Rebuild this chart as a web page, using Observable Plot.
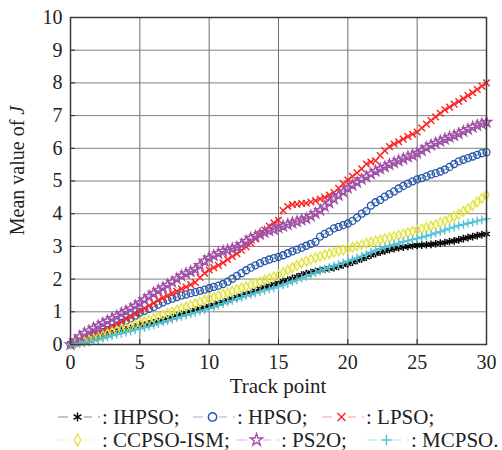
<!DOCTYPE html>
<html>
<head>
<meta charset="utf-8">
<script src="https://cdn.jsdelivr.net/npm/d3@7"></script>
<script src="https://cdn.jsdelivr.net/npm/@observablehq/plot@0.6"></script>
<style>
  body { margin: 0; background: #fff; font-family: "Liberation Serif", "Times New Roman", serif; }
  #chart { width: 502px; }
  .legend { position: relative; width: 502px; height: 50px; font-size: 21px; color: #222; }
  .item { position: absolute; display: flex; align-items: center; white-space: nowrap; height: 24px; }
  .item svg { display: block; margin-right: 2px; }
</style>
</head>
<body>
<div id="chart"></div>
<script>
// Mean value of J at each track point, sampled every 1/3 of a track point (0 … 30)
const seriesNames = ["IHPSO", "HPSO", "LPSO", "CCPSO-ISM", "PS2O", "MCPSO"];

const ihpso = [
  0.00, 0.02, 0.05, 0.08, 0.12, 0.16, 0.20, 0.24, 0.29, 0.33, 0.37, 0.41,
  0.45, 0.49, 0.53, 0.57, 0.60, 0.63, 0.66, 0.70, 0.74, 0.78, 0.82, 0.87,
  0.92, 0.96, 1.00, 1.05, 1.09, 1.13, 1.17, 1.21, 1.26, 1.30, 1.35, 1.40,
  1.45, 1.49, 1.54, 1.58, 1.64, 1.70, 1.75, 1.79, 1.84, 1.88, 1.93, 1.97,
  2.02, 2.07, 2.12, 2.17, 2.20, 2.24, 2.27, 2.30, 2.32, 2.35, 2.39, 2.43,
  2.47, 2.52, 2.57, 2.62, 2.67, 2.73, 2.78, 2.82, 2.86, 2.90, 2.93, 2.96,
  2.98, 3.00, 3.02, 3.03, 3.04, 3.05, 3.06, 3.08, 3.10, 3.12, 3.15, 3.17,
  3.20, 3.24, 3.27, 3.30, 3.33, 3.36, 3.38
];
const hpso = [
  0.00, 0.04, 0.09, 0.15, 0.21, 0.27, 0.33, 0.38, 0.44, 0.50, 0.58, 0.66,
  0.73, 0.80, 0.88, 0.98, 1.03, 1.09, 1.15, 1.22, 1.29, 1.35, 1.40, 1.45,
  1.50, 1.53, 1.57, 1.60, 1.64, 1.68, 1.72, 1.76, 1.80, 1.85, 1.92, 2.01,
  2.10, 2.18, 2.27, 2.35, 2.42, 2.49, 2.55, 2.60, 2.64, 2.68, 2.73, 2.79,
  2.85, 2.90, 2.96, 3.02, 3.08, 3.14, 3.30, 3.38, 3.45, 3.55, 3.60, 3.65,
  3.70, 3.78, 3.88, 4.00, 4.08, 4.25, 4.35, 4.42, 4.52, 4.60, 4.68, 4.77,
  4.85, 4.92, 4.99, 5.05, 5.09, 5.14, 5.20, 5.24, 5.29, 5.35, 5.43, 5.52,
  5.60, 5.65, 5.70, 5.75, 5.80, 5.85, 5.88
];
const lpso = [
  0.00, 0.06, 0.12, 0.18, 0.24, 0.29, 0.35, 0.42, 0.48, 0.55, 0.62, 0.70,
  0.78, 0.85, 0.93, 1.02, 1.10, 1.18, 1.27, 1.36, 1.43, 1.50, 1.57, 1.63,
  1.70, 1.76, 1.83, 1.90, 2.05, 2.18, 2.28, 2.35, 2.42, 2.50, 2.60, 2.69,
  2.78, 2.88, 2.99, 3.10, 3.23, 3.37, 3.50, 3.62, 3.72, 3.80, 4.10, 4.22,
  4.28, 4.29, 4.31, 4.32, 4.36, 4.40, 4.45, 4.50, 4.57, 4.65, 4.78, 4.92,
  5.03, 5.14, 5.25, 5.37, 5.52, 5.58, 5.62, 5.78, 5.93, 6.05, 6.13, 6.20,
  6.28, 6.36, 6.43, 6.50, 6.62, 6.74, 6.85, 6.96, 7.07, 7.18, 7.26, 7.35,
  7.43, 7.52, 7.61, 7.70, 7.80, 7.90, 8.00
];
const ccpsoIsm = [
  0.00, 0.03, 0.06, 0.10, 0.14, 0.18, 0.22, 0.27, 0.33, 0.38, 0.42, 0.46,
  0.50, 0.55, 0.60, 0.65, 0.70, 0.75, 0.80, 0.85, 0.90, 0.95, 1.00, 1.05,
  1.10, 1.15, 1.20, 1.25, 1.30, 1.35, 1.40, 1.44, 1.49, 1.53, 1.58, 1.63,
  1.68, 1.73, 1.77, 1.82, 1.87, 1.92, 1.97, 2.02, 2.07, 2.12, 2.20, 2.28,
  2.35, 2.42, 2.49, 2.55, 2.60, 2.65, 2.70, 2.74, 2.78, 2.82, 2.86, 2.89,
  2.93, 2.97, 3.01, 3.05, 3.09, 3.13, 3.17, 3.20, 3.24, 3.27, 3.31, 3.34,
  3.38, 3.42, 3.46, 3.50, 3.54, 3.58, 3.62, 3.67, 3.73, 3.78, 3.85, 3.91,
  3.98, 4.07, 4.16, 4.25, 4.36, 4.47, 4.58
];
const ps2o = [
  0.00, 0.12, 0.24, 0.35, 0.42, 0.50, 0.57, 0.65, 0.72, 0.80, 0.87, 0.95,
  1.02, 1.10, 1.18, 1.27, 1.37, 1.47, 1.57, 1.66, 1.74, 1.82, 1.91, 2.01,
  2.10, 2.17, 2.23, 2.30, 2.42, 2.55, 2.65, 2.72, 2.79, 2.85, 2.89, 2.93,
  2.97, 3.06, 3.16, 3.25, 3.31, 3.37, 3.43, 3.48, 3.52, 3.57, 3.62, 3.67,
  3.72, 3.76, 3.81, 3.85, 3.93, 4.01, 4.10, 4.22, 4.33, 4.45, 4.56, 4.67,
  4.78, 4.87, 4.96, 5.05, 5.13, 5.22, 5.30, 5.37, 5.43, 5.50, 5.56, 5.62,
  5.68, 5.74, 5.79, 5.85, 5.93, 6.02, 6.10, 6.16, 6.22, 6.28, 6.34, 6.39,
  6.45, 6.52, 6.58, 6.65, 6.70, 6.75, 6.80
];
const mcpso = [
  0.00, 0.01, 0.03, 0.05, 0.08, 0.12, 0.15, 0.19, 0.23, 0.27, 0.31, 0.34,
  0.38, 0.41, 0.45, 0.48, 0.52, 0.56, 0.60, 0.64, 0.69, 0.73, 0.77, 0.82,
  0.86, 0.90, 0.94, 0.98, 1.02, 1.06, 1.10, 1.15, 1.20, 1.25, 1.30, 1.35,
  1.40, 1.44, 1.49, 1.53, 1.57, 1.61, 1.65, 1.69, 1.73, 1.77, 1.82, 1.87,
  1.92, 1.97, 2.03, 2.08, 2.14, 2.19, 2.25, 2.30, 2.35, 2.40, 2.45, 2.50,
  2.55, 2.60, 2.65, 2.70, 2.76, 2.82, 2.88, 2.93, 2.97, 3.02, 3.06, 3.10,
  3.14, 3.17, 3.21, 3.24, 3.28, 3.32, 3.36, 3.41, 3.45, 3.50, 3.55, 3.59,
  3.64, 3.67, 3.71, 3.74, 3.78, 3.81, 3.85
];

const seriesValues = [ihpso, hpso, lpso, ccpsoIsm, ps2o, mcpso];
const xTicks = [0, 5, 10, 15, 20, 25, 30];
const yTicks = [0, 1, 2, 3, 4, 5, 6, 7, 8, 9, 10];

// Per-series drawing style
const styles = [
  { color: "#000000", symbol: "asterisk", r: 3.6, sw: 1.5 },
  { color: "#2355a8", symbol: "circle",   r: 3.5, sw: 1.3 },
  { color: "#ff2020", symbol: "times",    r: 3.1, sw: 1.4 },
  { color: "#e2e23a", symbol: "diamond",  r: 2.9, sw: 1.3 },
  { color: "#a050a6", symbol: "star",     r: 3.2, sw: 1.4 },
  { color: "#56c3d3", symbol: "plus",     r: 2.9, sw: 1.4 }
];

const step = 30 / (ihpso.length - 1);
const tables = seriesValues.map((vals, k) =>
  vals.map((v, i) => ({ series: seriesNames[k], x: i * step, y: v }))
);

const W = 502, H = 400;
const mL = 70, mR = 16, mT = 17, mB = 56;
const plotW = W - mL - mR, plotH = H - mT - mB;
const dash = "6,2.5,1.5,2.5";

const marks = [
  Plot.gridX(xTicks, { stroke: "#6e6e6e", strokeOpacity: 1, strokeWidth: 1 }),
  Plot.gridY(yTicks, { stroke: "#808080", strokeOpacity: 1, strokeWidth: 1 })
];
tables.forEach((t, k) => {
  const s = styles[k];
  marks.push(Plot.line(t, { x: "x", y: "y", stroke: s.color, strokeWidth: 0.8, strokeDasharray: dash, strokeOpacity: 0.8 }));
  marks.push(Plot.dot(t, { x: "x", y: "y", symbol: () => s.symbol, r: s.r, stroke: s.color, fill: "none", strokeWidth: s.sw }));
});
marks.push(
  Plot.tickY(yTicks, { y: d => d, insetRight: plotW - 5, stroke: "#222", strokeWidth: 1 }),
  Plot.tickX(xTicks, { x: d => d, insetTop: plotH - 5, stroke: "#222", strokeWidth: 1 }),
  Plot.frame({ stroke: "#3a3a3a", strokeWidth: 1.5 }),
  Plot.axisX(xTicks, { tickSize: 0, tickPadding: 10, fontSize: 20, label: null }),
  Plot.axisY(yTicks, { tickSize: 0, tickPadding: 8, fontSize: 20, label: null })
);

const chart = Plot.plot({
  width: W, height: H,
  marginLeft: mL, marginRight: mR, marginTop: mT, marginBottom: mB,
  x: { domain: [0, 30] },
  y: { domain: [0, 10] },
  symbol: { type: "identity" },
  style: { fontFamily: "Liberation Serif, Times New Roman, serif", color: "#222", background: "#fff", overflow: "visible" },
  marks
});

const svg = d3.select(chart);
svg.append("text")
  .attr("x", mL + plotW / 2).attr("y", 393)
  .attr("text-anchor", "middle").attr("font-size", 21).attr("fill", "#222")
  .text("Track point");
const yl = svg.append("text")
  .attr("transform", `translate(24,${mT + plotH / 2 - 10}) rotate(-90)`)
  .attr("text-anchor", "middle").attr("font-size", 20).attr("fill", "#222");
yl.append("tspan").text("Mean value of ");
yl.append("tspan").attr("font-style", "italic").text("J");

document.getElementById("chart").appendChild(chart);

// Legend below the plot: dash-dot swatch with marker, then the series name
const legendPos = [[58, 5], [193, 5], [322, 5], [58, 28], [237, 28], [367, 28]];
const legendEnd = [";", ";", ";", ";", ";", "."];
const legend = d3.select("body").append("div").attr("class", "legend");
seriesNames.forEach((name, k) => {
  const s = styles[k];
  const item = legend.append("div").attr("class", "item")
    .style("left", legendPos[k][0] + "px").style("top", legendPos[k][1] + "px");
  const sw = item.append("svg").attr("width", 42).attr("height", 24);
  sw.append("line").attr("x1", 0).attr("x2", 42).attr("y1", 12).attr("y2", 12)
    .attr("stroke", s.color).attr("stroke-width", 0.8).attr("stroke-opacity", 0.6)
    .attr("stroke-dasharray", "10,6,2,6");
  const symMap = { asterisk: d3.symbolAsterisk, circle: d3.symbolCircle, times: d3.symbolTimes,
                   diamond: d3.symbolDiamond, star: d3.symbolStar, plus: d3.symbolPlus };
  sw.append("rect").attr("x", 13).attr("y", 4).attr("width", 13).attr("height", 16).attr("fill", "#fff");
  sw.append("path").attr("transform", "translate(19.5,12)")
    .attr("d", d3.symbol(symMap[s.symbol], Math.PI * (s.r * 1.2) ** 2)())
    .attr("fill", s.symbol === "asterisk" ? s.color : "none")
    .attr("stroke", s.color).attr("stroke-width", 1.4);
  item.append("span").text(": " + name + legendEnd[k]);
});
</script>
</body>
</html>
